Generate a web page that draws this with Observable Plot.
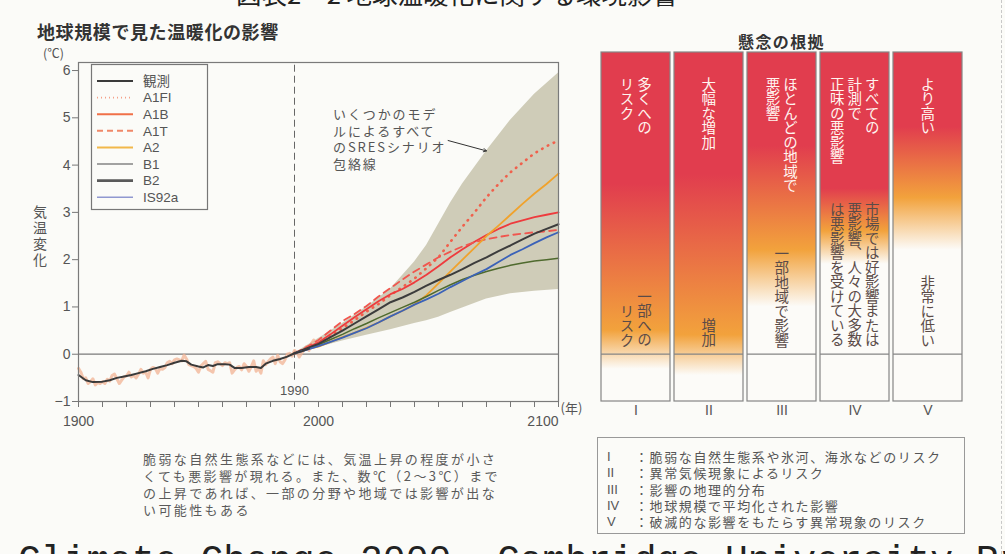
<!DOCTYPE html>
<html lang="ja"><head><meta charset="utf-8">
<script src="https://cdn.jsdelivr.net/npm/d3@7"></script>
<script src="https://cdn.jsdelivr.net/npm/@observablehq/plot@0.6"></script>
<style>
html,body{margin:0;padding:0;background:#fbfbf8;}
#root{position:relative;width:1005px;height:554px;overflow:hidden;font-family:"Noto Sans CJK JP","Liberation Sans",sans-serif;color:#555;background:#fbfbf8;}
.abs{position:absolute;line-height:1;white-space:pre;}
.vt{writing-mode:vertical-rl;}
svg{overflow:visible;}
</style></head><body><div id="root"></div>
<script>
// ---------- DATA ----------
const obsYears = [1900,1903,1906,1910,1913,1916,1919,1922,1925,1928,1931,1934,1937,1940,1943,1945,1947,1950,1952,1954,1956,1958,1961,1963,1965,1968,1971,1974,1976,1978,1981,1984,1987,1990,1993,1996];
const obsSmooth = [-0.44,-0.55,-0.59,-0.58,-0.55,-0.50,-0.47,-0.44,-0.40,-0.36,-0.31,-0.27,-0.23,-0.18,-0.14,-0.15,-0.22,-0.26,-0.28,-0.23,-0.25,-0.21,-0.21,-0.22,-0.29,-0.29,-0.27,-0.27,-0.29,-0.20,-0.14,-0.10,-0.05,0.02,0.06,0.12];
const annualYears = [1900,1901,1902,1903,1904,1905,1906,1907,1908,1909,1910,1911,1912,1913,1914,1915,1916,1917,1918,1919,1920,1921,1922,1923,1924,1925,1926,1927,1928,1929,1930,1931,1932,1933,1934,1935,1936,1937,1938,1939,1940,1941,1942,1943,1944,1945,1946,1947,1948,1949,1950,1951,1952,1953,1954,1955,1956,1957,1958,1959,1960,1961,1962,1963,1964,1965,1966,1967,1968,1969,1970,1971,1972,1973,1974,1975,1976,1977,1978,1979,1980,1981,1982,1983,1984,1985,1986,1987,1988,1989,1990,1991,1992,1993,1994,1995,1996,1997,1998];
const annualVals = [-0.30,-0.38,-0.52,-0.50,-0.62,-0.58,-0.52,-0.65,-0.60,-0.62,-0.58,-0.62,-0.53,-0.57,-0.45,-0.42,-0.52,-0.62,-0.55,-0.48,-0.46,-0.38,-0.48,-0.45,-0.50,-0.42,-0.32,-0.40,-0.38,-0.50,-0.32,-0.28,-0.30,-0.40,-0.30,-0.32,-0.28,-0.18,-0.15,-0.20,-0.12,-0.10,-0.12,-0.14,-0.02,-0.10,-0.22,-0.24,-0.26,-0.30,-0.38,-0.25,-0.20,-0.15,-0.32,-0.35,-0.38,-0.18,-0.16,-0.20,-0.24,-0.18,-0.20,-0.18,-0.40,-0.33,-0.28,-0.26,-0.33,-0.20,-0.26,-0.36,-0.26,-0.14,-0.36,-0.30,-0.40,-0.14,-0.22,-0.16,-0.10,-0.06,-0.20,-0.02,-0.16,-0.20,-0.12,0.00,0.02,-0.04,0.08,0.04,-0.06,0.02,0.10,0.16,0.08,0.22,0.30];

const projYears = [1990,1995,2000,2005,2010,2015,2020,2025,2030,2035,2040,2045,2050,2055,2060,2065,2070,2075,2080,2085,2090,2095,2100];
const A1FI = [0.02,0.12,0.22,0.38,0.55,0.72,0.90,1.06,1.25,1.42,1.60,1.82,2.05,2.38,2.70,3.00,3.32,3.60,3.85,4.05,4.25,4.40,4.52];
const A1B  = [0.02,0.13,0.25,0.42,0.60,0.78,0.95,1.12,1.27,1.38,1.52,1.68,1.86,2.05,2.22,2.38,2.52,2.65,2.76,2.83,2.90,2.95,3.00];
const A1T  = [0.02,0.15,0.30,0.50,0.70,0.85,1.02,1.22,1.40,1.58,1.75,1.90,2.05,2.17,2.28,2.37,2.43,2.48,2.52,2.55,2.58,2.60,2.63];
const A2   = [0.02,0.10,0.16,0.26,0.36,0.45,0.56,0.67,0.80,0.92,1.05,1.25,1.50,1.75,2.00,2.25,2.50,2.72,2.95,3.18,3.40,3.60,3.82];
const B1   = [0.02,0.11,0.20,0.31,0.42,0.54,0.65,0.77,0.88,0.99,1.10,1.22,1.35,1.47,1.58,1.67,1.75,1.82,1.88,1.93,1.97,2.00,2.03];
const B2   = [0.02,0.12,0.22,0.36,0.50,0.65,0.80,0.95,1.10,1.20,1.32,1.45,1.57,1.68,1.80,1.93,2.05,2.18,2.30,2.43,2.55,2.65,2.75];
const IS92a= [0.02,0.09,0.17,0.26,0.35,0.45,0.55,0.67,0.80,0.92,1.05,1.16,1.28,1.42,1.55,1.68,1.80,1.95,2.10,2.22,2.35,2.47,2.58];

const envYears = [1990,2000,2010,2020,2030,2040,2045,2050,2055,2060,2070,2080,2090,2100];
const envUpper = [0.02,0.33,0.65,1.00,1.38,1.95,2.30,2.75,3.20,3.60,4.30,4.95,5.50,5.95];
const envLower = [0.00,0.14,0.28,0.40,0.52,0.65,0.71,0.78,0.88,0.98,1.17,1.28,1.33,1.37];

const yTicks = [-1,0,1,2,3,4,5,6];
const xTicks = [1900,1910,1920,1930,1940,1950,1960,1970,1980,1990,2000,2010,2020,2030,2040,2050,2060,2070,2080,2090,2100];
const xLabels = [1900,2000];
const xLabelEnd = [2100];
const refYear = [1990];

const legendNames = ["観測","A1FI","A1B","A1T","A2","B1","B2","IS92a"];

const barCats = ["I","II","III","IV","V"];
const barTop = ["多くへの\nリスク","大幅な増加","ほとんどの地域で\n悪影響","すべての\n計測で\n正味の悪影響","より高い"];
const barBottom = ["一部への\nリスク","増加","一部地域で影響","市場では好影響または\n悪影響、人々の大多数\nは悪影響を受けている","非常に低い"];
const gradRedEnd = [3.6,3.8,4.4,3.5,4.8];
const gradOrange = [0.5,0.4,2.2,2.6,3.3];
const gradWhite  = [-0.32,-0.45,1.0,1.9,2.2];

const notes = ["I","II","III","IV","V"];
const noteTexts = ["：脆弱な自然生態系や氷河、海氷などのリスク","：異常気候現象によるリスク","：影響の地理的分布","：地球規模で平均化された影響","：破滅的な影響をもたらす異常現象のリスク"];
const paraLines = ["脆弱な自然生態系などには、気温上昇の程度が小さ","くても悪影響が現れる。また、数℃（2～3℃）まで","の上昇であれば、一部の分野や地域では影響が出な","い可能性もある"];

// ---------- STYLES ----------
const styles = {
  "観測": {stroke:"#3a3a3a", strokeWidth:2.0},
  "A1FI": {stroke:"#f0604c", strokeWidth:2.6, strokeDasharray:"0.5,6", strokeLinecap:"round"},
  "A1B": {stroke:"#ee3b3d", strokeWidth:1.8},
  "A1T": {stroke:"#f0564e", strokeWidth:1.8, strokeDasharray:"7,5"},
  "A2": {stroke:"#f0a22c", strokeWidth:1.8},
  "B1": {stroke:"#4f6a2e", strokeWidth:1.5},
  "B2": {stroke:"#3c3c3c", strokeWidth:2.0},
  "IS92a": {stroke:"#3b62b8", strokeWidth:1.8}
};
const legendStyles = {
  "観測": {stroke:"#3a3a3a", w:2},
  "A1FI": {stroke:"#f5a088", w:1.6, dash:"1,3"},
  "A1B": {stroke:"#f07048", w:2},
  "A1T": {stroke:"#f08868", w:2, dash:"6,4"},
  "A2": {stroke:"#f2b84a", w:2},
  "B1": {stroke:"#4a4a4a", w:1.2},
  "B2": {stroke:"#5a5a5a", w:2.6},
  "IS92a": {stroke:"#9098d0", w:1.6}
};

const rows = (ys, vs) => ys.map((y,i)=>({year:y, v:vs[i]}));
const env = envYears.map((y,i)=>({year:y, lower:envLower[i], upper:envUpper[i]}));
const series = {A1FI, A1B, A1T, A2, B1, B2, IS92a};

const yMin = -1, yMaxL = 6.17, yMaxB = 6.38;
const numFont = "Liberation Sans, Arial, sans-serif";

// ---------- LEFT CHART ----------
const left = Plot.plot({
  width: 600, height: 440,
  marginLeft: 78, marginRight: 42, marginTop: 62, marginBottom: 39,
  x: {domain: [1900, 2100]},
  y: {domain: [yMin, yMaxL]},
  style: {background: "transparent", fontFamily: numFont, fontSize: "14px", color: "#555", overflow: "visible"},
  marks: [
    Plot.areaY(env, {x: "year", y1: "lower", y2: "upper", fill: "#cfccb8"}),
    Plot.ruleY([0], {stroke: "#7a7a7a", strokeWidth: 1.2}),
    Plot.ruleX(refYear, {x: d => d, y1: -0.55, y2: yMaxL, stroke: "#666", strokeDasharray: "7,4"}),
    Plot.line(rows(annualYears, annualVals), {x: "year", y: "v", stroke: "#f2b394", strokeWidth: 3, strokeOpacity: 0.75}),
    ...Object.entries(series).map(([k, vals]) => Plot.line(rows(projYears, vals), {x: "year", y: "v", ...styles[k]})),
    Plot.line(rows(obsYears, obsSmooth), {x: "year", y: "v", ...styles["観測"]}),
    Plot.frame({stroke: "#7a7a7a", strokeWidth: 1.2}),
    Plot.axisY({ticks: yTicks, tickSize: 6, tickPadding: 2, label: null, fontSize: 14, stroke: "#777"}),
    Plot.axisX({ticks: xTicks, tickFormat: () => "", tickSize: 6, label: null, stroke: "#777"}),
    Plot.text(xLabels, {x: d => d, y: yMin, dy: 20, text: d => String(d), fontSize: 14, fill: "#555"}),
    Plot.text(xLabelEnd, {x: d => d, y: yMin, dy: 20, text: d => String(d), fontSize: 14, fill: "#555", textAnchor: "end"}),
    Plot.text(xLabelEnd, {x: d => d, y: yMin, dy: 7, dx: 2, text: () => "(年)", fontSize: 13, fill: "#555", textAnchor: "start", fontFamily: "Noto Sans CJK JP"}),
    Plot.text(refYear, {x: d => d, y: yMin, dy: -11, text: d => String(d), fontSize: 13, fill: "#555"}),
    Plot.arrow([{x1: 2054, y1: 4.52, x2: 2070, y2: 4.3}], {x1: "x1", y1: "y1", x2: "x2", y2: "y2", stroke: "#333", strokeWidth: 1, headLength: 5})
  ]
});

// ---------- BARS ----------
const barData = barCats.map((c,i)=>({cat:c, idx:i}));
const bars = Plot.plot({
  width: 405, height: 440,
  marginLeft: 17, marginRight: 20, marginTop: 52, marginBottom: 39,
  x: {domain: barCats, paddingInner: 0.06, paddingOuter: 0.03},
  y: {domain: [yMin, yMaxB], axis: null},
  color: {type: "identity"},
  style: {background: "transparent", fontFamily: numFont, fontSize: "14px", color: "#555", overflow: "visible"},
  marks: [
    Plot.barY(barData, {x: "cat", y1: yMin, y2: yMaxB, fill: d => `url(#grad-${d.idx})`, stroke: "#858585", strokeWidth: 1.2, inset: 0}),
    Plot.tickY(barData, {x: "cat", y: 0, stroke: "#858585", strokeWidth: 1.2}),
    Plot.axisX({tickSize: 0, tickPadding: 4, label: null, fontSize: 14})
  ]
});
const yB = bars.scale("y");
const defs = d3.select(bars).insert("defs", ":first-child");
const red = "#e13d4e", orange = "#f2a23c", white = "#fcfbf8";
const top0 = yB.apply(yMaxB), bot0 = yB.apply(yMin);
const off = v => Math.max(0, Math.min(1, (yB.apply(v) - top0) / (bot0 - top0)));
barCats.forEach((c,i)=>{
  const g = defs.append("linearGradient").attr("id", `grad-${i}`).attr("gradientUnits","userSpaceOnUse")
    .attr("x1",0).attr("x2",0).attr("y1",top0).attr("y2",bot0);
  g.append("stop").attr("offset",0).attr("stop-color",red);
  g.append("stop").attr("offset",off(gradRedEnd[i])).attr("stop-color",red);
  g.append("stop").attr("offset",off(gradOrange[i])).attr("stop-color",orange);
  g.append("stop").attr("offset",off(gradWhite[i])).attr("stop-color",white);
  g.append("stop").attr("offset",1).attr("stop-color",white);
});

// ---------- LAYOUT ----------
const root = document.getElementById("root");
function place(el, x, y){ el.style.position="absolute"; el.style.left=x+"px"; el.style.top=y+"px"; root.appendChild(el); return el; }
function div(text, css){ const d=document.createElement("div"); d.className="abs"; d.textContent=text; Object.assign(d.style, css); root.appendChild(d); return d; }

place(left, 0, 0);
const BX = 580;
place(bars, BX, 0);

// Legend (drawn from legendNames)
const lg = d3.create("svg").attr("width",600).attr("height",440).style("position","absolute").style("left","0px").style("top","0px").style("pointer-events","none");
lg.append("rect").attr("x",91.5).attr("y",64.5).attr("width",116).attr("height",145).attr("fill","#fbfbf8").attr("stroke","#777").attr("stroke-width",1.2);
legendNames.forEach((n,i)=>{
  const yy = 81 + i*16.6, s = legendStyles[n];
  lg.append("line").attr("x1",97).attr("x2",133).attr("y1",yy).attr("y2",yy).attr("stroke",s.stroke).attr("stroke-width",s.w).attr("stroke-dasharray",s.dash||null);
  lg.append("text").attr("x",143).attr("y",yy).attr("dy","0.36em").attr("font-size",13.5).attr("fill","#555")
    .attr("font-family", n==="観測" ? "Noto Sans CJK JP" : numFont).text(n);
});
root.appendChild(lg.node());

// Titles & labels
div("図表2－2 地球温暖化に関する環境影響", {left:"236px", top:"-20px", fontSize:"25.5px", color:"#222"});
div("地球規模で見た温暖化の影響", {left:"37px", top:"22px", fontSize:"18px", fontWeight:"bold", letterSpacing:"0.6px", color:"#333"});
div("(℃)", {left:"43px", top:"47px", fontSize:"12.5px", color:"#555"});
const vlab = div("気温変化", {left:"33px", top:"205px", fontSize:"14px", letterSpacing:"2px", color:"#555"}); vlab.classList.add("vt");
div("いくつかのモデ\nルによるすべて\nのSRESシナリオ\n包絡線", {left:"333px", top:"106px", fontSize:"13px", letterSpacing:"1.9px", lineHeight:"16.5px", color:"#555"});

// Right panel title
const xB = bars.scale("x"), bw = xB.bandwidth;
const barsLeft = BX + xB.apply(barCats[0]), barsRight = BX + xB.apply(barCats[barCats.length-1]) + bw;
div("懸念の根拠", {left:((barsLeft+barsRight)/2)+"px", top:"33px", transform:"translateX(-50%)", fontSize:"16px", fontWeight:"bold", letterSpacing:"1.4px", color:"#333"});

// Bar texts
barCats.forEach((c,i)=>{
  const cx = BX + xB.apply(c) + bw/2;
  const t = div(barTop[i], {left:cx+"px", top:"77px", transform:"translateX(-50%)", fontSize:"14.5px", lineHeight:"17.5px", color:"#fff4ef"});
  t.classList.add("vt");
  const b = div(barBottom[i], {left:cx+"px", bottom:(554-347)+"px", transform:"translateX(-50%)", fontSize:"14.5px", lineHeight:"17.5px", color:"#5b4b48", textAlign:"end"});
  b.classList.add("vt");
});

// Bottom-left paragraph
div(paraLines.join("\n"), {left:"143px", top:"450px", fontSize:"13px", letterSpacing:"2.4px", lineHeight:"17px", color:"#5a5a5a"});

// Bottom-right notes box
const box = document.createElement("div");
Object.assign(box.style, {position:"absolute", left:"597px", top:"437px", width:"368px", height:"97px", border:"1px solid #999", boxSizing:"border-box", padding:"11px 0 0 9px"});
notes.forEach((n,i)=>{
  const line = document.createElement("div");
  Object.assign(line.style, {display:"flex", height:"16.3px", lineHeight:"16.3px", fontSize:"13px", color:"#555", whiteSpace:"nowrap"});
  const a = document.createElement("span"); a.textContent=n; Object.assign(a.style,{width:"28px", fontFamily:numFont, fontSize:"13px"});
  const b = document.createElement("span"); b.textContent=noteTexts[i]; b.style.letterSpacing="1.6px";
  line.appendChild(a); line.appendChild(b); box.appendChild(line);
});
root.appendChild(box);

// Bottom clipped source caption
div("Climate Change 2000, Cambridge University Press", {left:"18px", top:"543px", fontSize:"38px", fontFamily:"Liberation Mono, monospace", color:"#222"});

// right edge dashed fold line
const fold = document.createElement("div");
Object.assign(fold.style,{position:"absolute", left:"1001px", top:"0px", width:"0px", height:"554px", borderLeft:"1px dashed #c8c8c8"});
root.appendChild(fold);
</script></body></html>
